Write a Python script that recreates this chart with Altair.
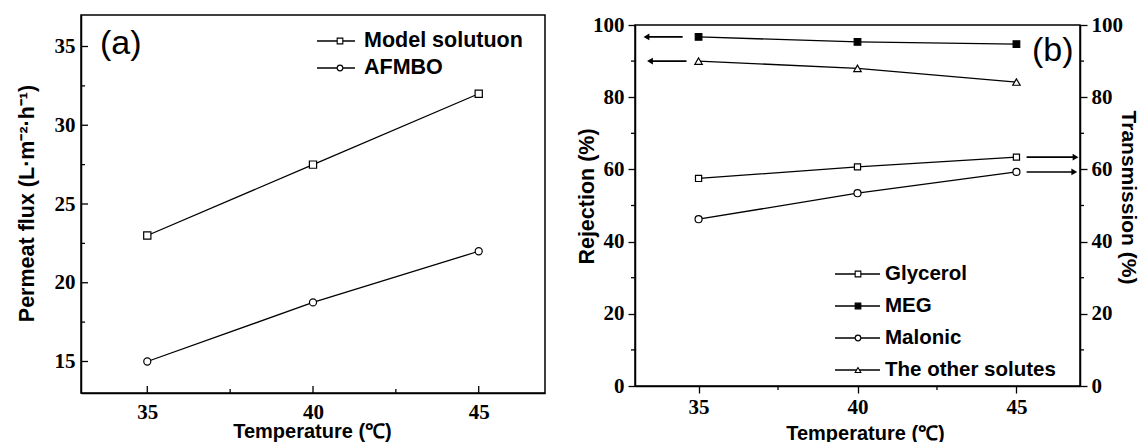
import altair as alt
import pandas as pd

# ---------------- data ----------------
temps = [35, 40, 45]
model_flux = [23.0, 27.5, 32.0]
afmbo_flux = [15.0, 18.75, 22.0]

glycerol = [57.5, 60.7, 63.4]
meg = [96.7, 95.3, 94.7]
malonic = [46.2, 53.4, 59.3]
others = [90.0, 88.0, 84.2]

flux_ticks = [15, 20, 25, 30, 35]
flux_minor = [17.5, 22.5, 27.5, 32.5]
temp_ticks = [35, 40, 45]
temp_minor = [37.5, 42.5]
rej_ticks = [0, 20, 40, 60, 80, 100]
rej_minor = [10, 30, 50, 70, 90]

series_a = ["Model solutuon", "AFMBO"]
series_b = ["Glycerol", "MEG", "Malonic", "The other solutes"]

# arrows (right panel): y level, start x, tip x
arrow_left_y = [meg[0], others[0]]
arrow_left_x0 = [34.5, 34.62]
arrow_left_tip = [33.36, 33.47]
arrow_right_y = [glycerol[2], malonic[2]]
arrow_right_x0 = [45.32, 45.32]
arrow_right_tip = [46.86, 46.82]

SANS = "Liberation Sans"
SERIF = "Liberation Serif"
LW = 1.3

# ---------------- panel (a) ----------------
W1, H1 = 464, 378
xs1 = alt.Scale(domain=[33, 47], nice=False, zero=False)
ys1 = alt.Scale(domain=[13, 37], nice=False, zero=False)
ax_x1 = alt.Axis(values=temp_ticks, ticks=False, labelPadding=8,
                 title="Temperature (℃)", titleX=231, titleY=38, titleBaseline="middle",
                 titleFontSize=20)
ax_y1 = alt.Axis(values=flux_ticks, ticks=False, labelPadding=6,
                 title="Permeat flux (L·m⁻²·h⁻¹)", titleX=-54, titleY=188, titleBaseline="middle")

df_a = pd.DataFrame({
    "temp": temps * 2,
    "value": model_flux + afmbo_flux,
    "series": [series_a[0]] * 3 + [series_a[1]] * 3,
})

lines_a = alt.Chart(df_a).mark_line(color="black", strokeWidth=LW).encode(
    x=alt.X("temp:Q", scale=xs1, axis=ax_x1),
    y=alt.Y("value:Q", scale=ys1, axis=ax_y1),
    detail="series:N")
points_a = alt.Chart(df_a).mark_point(filled=True, stroke="black", strokeWidth=1.2, opacity=1).encode(
    x=alt.X("temp:Q", scale=xs1, axis=ax_x1),
    y=alt.Y("value:Q", scale=ys1, axis=ax_y1),
    shape=alt.Shape("series:N", scale=alt.Scale(domain=series_a, range=["square", "circle"]), legend=None),
    fill=alt.Fill("series:N", scale=alt.Scale(domain=series_a, range=["white", "white"]), legend=None),
    size=alt.Size("series:N", scale=alt.Scale(domain=series_a, range=[52, 50]), legend=None),
)

def inner_y_ticks(vals, scale, axis, length):
    return alt.Chart(pd.DataFrame({"v": vals})).mark_rule(color="black", strokeWidth=LW).encode(
        y=alt.Y("v:Q", scale=scale, axis=axis), x=alt.value(0), x2=alt.value(length))

def inner_x_ticks(vals, scale, axis, length, h):
    return alt.Chart(pd.DataFrame({"v": vals})).mark_rule(color="black", strokeWidth=LW).encode(
        x=alt.X("v:Q", scale=scale, axis=axis), y=alt.value(h), y2=alt.value(h - length))

def legend_entry(label, y, x0, x1, xs, xt, shape, fill, size, fs):
    d = pd.DataFrame({"label": [label]})
    base = alt.Chart(d)
    return [
        base.mark_rule(color="black", strokeWidth=LW).encode(
            x=alt.value(x0), x2=alt.value(x1), y=alt.value(y)),
        base.mark_point(filled=True, fill=fill, stroke="black", strokeWidth=1.1, opacity=1,
                        shape=shape, size=size).encode(x=alt.value(xs), y=alt.value(y)),
        base.mark_text(align="left", baseline="middle", font=SANS, fontWeight="bold",
                       fontSize=fs, color="black").encode(
            x=alt.value(xt), y=alt.value(y), text="label:N"),
    ]

leg_a = []
leg_a += legend_entry(series_a[0], 26, 236, 274, 259, 283, "square", "white", 32, 21.5)
leg_a += legend_entry(series_a[1], 53, 236, 274, 259, 283, "circle", "white", 32, 21.5)

label_a = alt.Chart(pd.DataFrame({"t": ["(a)"]})).mark_text(
    align="left", baseline="middle", font=SANS, fontSize=34, color="black").encode(
    x=alt.value(19), y=alt.value(29), text="t:N")

panel_a = alt.layer(
    lines_a, points_a,
    inner_y_ticks(flux_ticks, ys1, ax_y1, 7), inner_y_ticks(flux_minor, ys1, ax_y1, 4),
    inner_x_ticks(temp_ticks, xs1, ax_x1, 7, H1), inner_x_ticks(temp_minor, xs1, ax_x1, 4, H1),
    *leg_a, label_a,
).properties(width=W1, height=H1)

# ---------------- panel (b) ----------------
W2, H2 = 445, 361
xs2 = alt.Scale(domain=[33, 47], nice=False, zero=False)
ys2 = alt.Scale(domain=[0, 100], nice=False, zero=False)
ax_x2 = alt.Axis(values=temp_ticks, tickSize=7, labelPadding=3,
                 title="Temperature (℃)", titleX=230, titleY=47, titleBaseline="middle",
                 titleFontSize=20)
ax_y2 = alt.Axis(values=rej_ticks, tickSize=7, labelPadding=4,
                 title="Rejection (%)", titleX=-48, titleY=171, titleBaseline="middle")

df_b = pd.DataFrame({
    "temp": temps * 4,
    "value": glycerol + meg + malonic + others,
    "series": sum([[s] * 3 for s in series_b], []),
})

lines_b = alt.Chart(df_b).mark_line(color="black", strokeWidth=LW).encode(
    x=alt.X("temp:Q", scale=xs2, axis=ax_x2),
    y=alt.Y("value:Q", scale=ys2, axis=ax_y2),
    detail="series:N")
points_b = alt.Chart(df_b).mark_point(filled=True, stroke="black", strokeWidth=1.2, opacity=1).encode(
    x=alt.X("temp:Q", scale=xs2, axis=ax_x2),
    y=alt.Y("value:Q", scale=ys2, axis=ax_y2),
    shape=alt.Shape("series:N", scale=alt.Scale(domain=series_b,
                    range=["square", "square", "circle", "triangle-up"]), legend=None),
    fill=alt.Fill("series:N", scale=alt.Scale(domain=series_b,
                  range=["white", "black", "white", "white"]), legend=None),
    size=alt.Size("series:N", scale=alt.Scale(domain=series_b, range=[38, 55, 60, 58]), legend=None),
)

left_minor = alt.Chart(pd.DataFrame({"v": rej_minor})).mark_rule(color="black", strokeWidth=LW).encode(
    y=alt.Y("v:Q", scale=ys2, axis=ax_y2), x=alt.value(0), x2=alt.value(-4))
bottom_minor = alt.Chart(pd.DataFrame({"v": temp_minor})).mark_rule(color="black", strokeWidth=LW).encode(
    x=alt.X("v:Q", scale=xs2, axis=ax_x2), y=alt.value(H2), y2=alt.value(H2 + 4))

arr_l = pd.DataFrame({"y": arrow_left_y, "x0": arrow_left_x0, "tip": arrow_left_tip})
arr_r = pd.DataFrame({"y": arrow_right_y, "x0": arrow_right_x0, "tip": arrow_right_tip})

def arrows(df, shape):
    shaft = alt.Chart(df).mark_rule(color="black", strokeWidth=1.6).encode(
        x=alt.X("x0:Q", scale=xs2, axis=ax_x2), x2="tip:Q",
        y=alt.Y("y:Q", scale=ys2, axis=ax_y2))
    head = alt.Chart(df).mark_point(shape=shape, filled=True, color="black", size=45, opacity=1).encode(
        x=alt.X("tip:Q", scale=xs2, axis=ax_x2), y=alt.Y("y:Q", scale=ys2, axis=ax_y2))
    return [shaft, head]

leg_b = []
leg_shapes = ["square", "square", "circle", "triangle-up"]
leg_fills = ["white", "black", "white", "white"]
leg_ys = [249, 281, 313, 345]
for s, sh, f, yy in zip(series_b, leg_shapes, leg_fills, leg_ys):
    leg_b += legend_entry(s, yy, 200, 245, 223, 250, sh, f, 32, 20.5)

label_b = alt.Chart(pd.DataFrame({"t": ["(b)"]})).mark_text(
    align="left", baseline="middle", font=SANS, fontSize=34, color="black").encode(
    x=alt.value(397), y=alt.value(26), text="t:N")

inner_b = alt.layer(
    lines_b, points_b, left_minor, bottom_minor,
    *arrows(arr_l, "triangle-left"), *arrows(arr_r, "triangle-right"),
    *leg_b, label_b,
)

# right axis + its minor ticks
right_minor = alt.Chart(pd.DataFrame({"v": rej_minor})).mark_rule(color="black", strokeWidth=LW).encode(
    y=alt.Y("v:Q", scale=ys2, axis=alt.Axis(orient="right", values=rej_ticks, tickSize=7, labelPadding=4,
                                            title="Transmission (%)", titleX=47, titleY=172,
                                            titleBaseline="middle", titleFontSize=21)),
    x=alt.value(W2), x2=alt.value(W2 + 4))

panel_b = alt.layer(inner_b, right_minor).resolve_axis(y="independent").properties(width=W2, height=H2)

# tiny invisible spacer so panel (b) sits a little lower than panel (a)
spacer = alt.Chart(pd.DataFrame({"t": [0]})).mark_rule(opacity=0, strokeWidth=0.1).encode(
    x=alt.value(0), x2=alt.value(1), y=alt.value(0)
).properties(width=W2, height=1, view=alt.ViewBackground(stroke="transparent"))

right_col = alt.vconcat(spacer, panel_b, spacing=-4)

chart = alt.hconcat(panel_a, right_col, spacing=29).resolve_scale(
    shape="independent", fill="independent", size="independent"
).properties(
    padding={"left": 15, "top": 13, "right": 0, "bottom": 0}
).configure_view(stroke="black", strokeWidth=1.5).configure_axis(
    domainColor="black", domainWidth=1.5, tickColor="black", tickWidth=LW, grid=False,
    labelFont=SERIF, labelFontWeight="bold", labelFontSize=21, labelColor="black",
    titleFont=SANS, titleFontWeight="bold", titleFontSize=21.5, titleColor="black",
).configure_point(opacity=1)

chart.save("out.html", embed_options={"renderer": "svg", "actions": False})
